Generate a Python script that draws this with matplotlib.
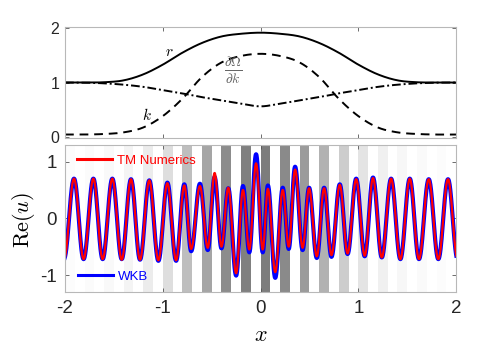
import numpy as np
import matplotlib
matplotlib.use('Agg')
import matplotlib.pyplot as plt

plt.rcParams.update({'font.family': 'Liberation Sans',
                     'mathtext.fontset': 'cm',
                     'axes.unicode_minus': False})

# top panel: profiles every 0.2 in x
x_prof = [-2.0, -1.8, -1.6, -1.4, -1.2, -1.0, -0.8, -0.6, -0.4, -0.2, 0.0,
          0.2, 0.4, 0.6, 0.8, 1.0, 1.2, 1.4, 1.6, 1.8, 2.0]
r_vals = [1.0, 1.0, 1.005, 1.04, 1.15, 1.33, 1.55, 1.73, 1.85, 1.90, 1.92,
          1.90, 1.85, 1.73, 1.55, 1.33, 1.15, 1.04, 1.005, 1.0, 1.0]
k_vals = [0.04, 0.04, 0.05, 0.08, 0.17, 0.38, 0.70, 1.10, 1.37, 1.49, 1.53,
          1.49, 1.37, 1.10, 0.70, 0.38, 0.17, 0.08, 0.05, 0.04, 0.04]
dwdk_vals = [1.0, 0.997, 0.985, 0.96, 0.92, 0.86, 0.80, 0.73, 0.67, 0.61, 0.56,
             0.61, 0.67, 0.73, 0.80, 0.86, 0.92, 0.96, 0.985, 0.997, 1.0]

# bottom panel: extrema of Re(u) (position, WKB value, TM value)
ext_x = [-2.01, -1.908, -1.81, -1.71, -1.615, -1.516, -1.42, -1.325, -1.233,
         -1.138, -1.045, -0.953, -0.864, -0.78, -0.71, -0.62, -0.54, -0.47,
         -0.40, -0.33, -0.25, -0.18, -0.115, -0.046, 0.022, 0.075, 0.15,
         0.227, 0.288, 0.353, 0.43, 0.496, 0.575, 0.65, 0.725, 0.81, 0.89,
         0.978, 1.065, 1.15, 1.24, 1.335, 1.43, 1.526, 1.62, 1.72, 1.818,
         1.917, 2.015]
wkb_ext = [-0.71, 0.70, -0.72, 0.70, -0.72, 0.70, -0.72, 0.69, -0.73,
           0.67, -0.75, 0.63, -0.75, 0.60, -0.58, 0.61, -0.56, 0.73,
           -0.53, 0.53, -1.01, 0.57, -0.60, 1.13, -0.60, 0.58, -1.05,
           0.54, -0.54, 0.91, -0.56, 0.54, -0.70, 0.54, -0.68, 0.60, -0.63,
           0.70, -0.67, 0.72, -0.69, 0.70, -0.72, 0.70, -0.72, 0.69, -0.72,
           0.69, -0.72]
tm_ext = [-0.72, 0.70, -0.72, 0.70, -0.72, 0.70, -0.73, 0.69, -0.73,
          0.67, -0.74, 0.62, -0.74, 0.58, -0.54, 0.57, -0.52, 0.80,
          -0.50, 0.54, -0.97, 0.50, -0.55, 0.97, -0.55, 0.52, -0.95,
          0.50, -0.50, 0.86, -0.52, 0.53, -0.67, 0.53, -0.65, 0.59, -0.62,
          0.69, -0.66, 0.71, -0.69, 0.70, -0.72, 0.70, -0.72, 0.69, -0.72,
          0.69, -0.72]

# grey layers in the background (left edge, grey level)
stripe_x = [-2.0, -1.8, -1.6, -1.4, -1.2, -1.0, -0.8, -0.6, -0.4, -0.2,
            0.0, 0.2, 0.4, 0.6, 0.8, 1.0, 1.2, 1.4, 1.6, 1.8]
stripe_grey = [252, 251, 249, 244, 236, 222, 190, 165, 140, 128,
               125, 138, 155, 178, 205, 228, 240, 247, 250, 252]


def smooth(xs, ys, n=12):
    # catmull-rom through the read points, just for drawing
    xs = np.asarray(xs, float)
    ys = np.asarray(ys, float)
    px = np.r_[2*xs[0]-xs[1], xs, 2*xs[-1]-xs[-2]]
    py = np.r_[2*ys[0]-ys[1], ys, 2*ys[-1]-ys[-2]]
    t = np.linspace(0, 1, n, endpoint=False)[:, None]
    def cr(p):
        p0, p1, p2, p3 = p[:-3], p[1:-2], p[2:-1], p[3:]
        return 0.5*((2*p1) + (-p0+p2)*t + (2*p0-5*p1+4*p2-p3)*t**2 + (-p0+3*p1-3*p2+p3)*t**3)
    ox = cr(px).T.ravel()
    oy = cr(py).T.ravel()
    return np.r_[ox, xs[-1]], np.r_[oy, ys[-1]]


def wave(xe, ye, n=30):
    # half-cosine between neighbouring extrema
    t = np.linspace(0, 1, n, endpoint=False)
    s = (1 - np.cos(np.pi*t))/2
    xs, ys = [], []
    for i in range(len(xe)-1):
        xs.append(xe[i] + (xe[i+1]-xe[i])*t)
        ys.append(ye[i] + (ye[i+1]-ye[i])*s)
    xs.append([xe[-1]])
    ys.append([ye[-1]])
    return np.concatenate(xs), np.concatenate(ys)


fig = plt.figure(figsize=(5.04, 3.46), dpi=100)
ax1 = fig.add_axes([0.129, 0.601, 0.776, 0.321])
ax2 = fig.add_axes([0.129, 0.156, 0.776, 0.426])

# top panel
xx, yy = smooth(x_prof, r_vals)
ax1.plot(xx, yy, 'k-', lw=1.4)
xx, yy = smooth(x_prof, k_vals)
ax1.plot(xx, yy, 'k--', lw=1.4, dashes=(4.5, 3))
xx, yy = smooth(x_prof, dwdk_vals)
ax1.plot(xx, yy, 'k-.', lw=1.4, dashes=(4.5, 1.5, 1, 1.5))
ax1.text(-0.93, 1.56, '$r$', fontsize=11, ha='center', va='center')
ax1.text(-1.164, 0.40, '$k$', fontsize=11, ha='center', va='center')
ax1.text(-0.278, 1.22, r'$\frac{\partial\Omega}{\partial k}$', fontsize=14,
         ha='center', va='center', color='#666666')
ax1.set_xlim(-2, 2)
ax1.set_ylim(-0.025, 2.025)
ax1.set_yticks([0, 1, 2])
ax1.set_xticks([-2, -1, 0, 1, 2])
ax1.tick_params(labelbottom=False, labelsize=11.5, pad=4)

# bottom panel
for x0, g in zip(stripe_x, stripe_grey):
    ax2.axvspan(x0, x0+0.1, color=str(g/255), lw=0, zorder=0)
xx, yy = wave(ext_x, wkb_ext)
lb, = ax2.plot(xx, yy, color='b', lw=3, label='WKB')
xx, yy = wave(ext_x, tm_ext)
lr, = ax2.plot(xx, yy, color='r', lw=1.6, label='TM Numerics')
ax2.set_xlim(-2, 2)
ax2.set_ylim(-1.3, 1.3)
ax2.set_xticks([-2, -1, 0, 1, 2])
ax2.set_yticks([-1, 0, 1])
ax2.tick_params(labelsize=13.5, pad=6)
ax2.set_ylabel(r'$\mathrm{Re}(u)$', fontsize=16)
ax2.yaxis.set_label_coords(-0.072, 0.49)
ax2.set_xlabel('$x$', fontsize=16)
ax2.xaxis.set_label_coords(0.5, -0.225)

leg1 = ax2.legend(handles=[lr], loc='center left', bbox_to_anchor=(0.03, 0.89),
                  frameon=False, fontsize=9.5, labelcolor='linecolor',
                  handlelength=2.7, handletextpad=0.35, borderpad=0, borderaxespad=0)
leg1.get_lines()[0].set_linewidth(2.2)
ax2.add_artist(leg1)
leg2 = ax2.legend(handles=[lb], loc='center left', bbox_to_anchor=(0.032, 0.105),
                  frameon=False, fontsize=9.5, labelcolor='linecolor',
                  handlelength=2.7, handletextpad=0.35, borderpad=0, borderaxespad=0)
leg2.get_lines()[0].set_linewidth(2.2)

for ax in (ax1, ax2):
    ax.tick_params(direction='in', length=3, width=0.6, color='#555555',
                   labelcolor='#262626', top=True, right=True)
    for sp in ax.spines.values():
        sp.set_color('#b8b8b8')
        sp.set_linewidth(0.8)

fig.savefig('out.png', dpi=100)
